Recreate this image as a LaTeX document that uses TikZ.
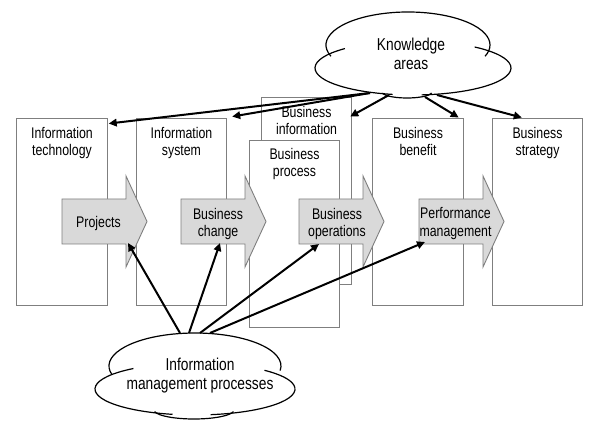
\documentclass[tikz,border=0pt]{standalone}
\usepackage{fontspec}
\setmainfont{Liberation Sans}[FakeStretch=0.8]
\usetikzlibrary{arrows.meta,calc}
\definecolor{boxgray}{HTML}{7F7F7F}
\definecolor{arrowgray}{HTML}{D9D9D9}
\begin{document}
\begin{tikzpicture}[x=1pt,y=-1pt,
  box/.style={draw=boxgray, line width=0.9pt, fill=white, minimum width=90.5pt, minimum height=187pt, inner sep=0pt},
  lbl/.style={anchor=north, align=center, inner sep=0pt, font=\fontsize{15.4}{17.3}\selectfont},
  cltxt/.style={anchor=north, align=center, inner sep=0pt, font=\fontsize{17.2}{19}\selectfont},
  blk/.style={draw=boxgray, line width=0.9pt, fill=arrowgray, line join=miter},
  conn/.style={line width=2pt, -{Triangle[length=8pt,width=7.5pt]}},
  cl/.style={line width=1.2pt},
  ]
\useasboundingbox (0,0) rectangle (600,430);
\fill[white] (0,0) rectangle (600,430);
% boxes
\node[box] (it) at (62,211.5) {};
\node[lbl] (itl) at (62,127) {Information\\technology};
\node[box] (is) at (181.5,211.5) {};
\node[lbl] (isl) at (181.5,127) {Information\\system};
\node[box] (bi) at (306.5,190.5) {};
\node[lbl] (bil) at (306.5,106) {Business\\information};
\node[box] (bp) at (294.5,233.5) {};
\node[lbl] (bpl) at (294.5,148) {Business\\process};
\node[box] (bb) at (418,211.5) {};
\node[lbl] (bbl) at (418,127) {Business\\benefit};
\node[box] (bs) at (537.5,211.5) {};
\node[lbl] (bsl) at (537.5,127) {Business\\strategy};
% block arrows
\draw[blk] (62,199) -- ++(64,0) -- ++(0,-23) -- ++(21,45.5) -- ++(-21,45.5) -- ++(0,-23) -- ++(-64,0) -- cycle;
\draw[blk] (181,199) -- ++(64,0) -- ++(0,-23) -- ++(21,45.5) -- ++(-21,45.5) -- ++(0,-23) -- ++(-64,0) -- cycle;
\draw[blk] (299,199) -- ++(64,0) -- ++(0,-23) -- ++(21,45.5) -- ++(-21,45.5) -- ++(0,-23) -- ++(-64,0) -- cycle;
\draw[blk] (419,199) -- ++(64,0) -- ++(0,-23) -- ++(21,45.5) -- ++(-21,45.5) -- ++(0,-23) -- ++(-64,0) -- cycle;
\node[lbl] (proj) at (98.5,216) {Projects};
\node[lbl] (chg) at (218,208) {Business\\change};
\node[lbl] (ops) at (337,208) {Business\\operations};
\node[lbl] (perf) at (455.5,207.5) {Performance\\management};
\coordinate (projend) at (128,243);
\coordinate (chgend) at (220,243);
\coordinate (opsend) at (319,244);
\coordinate (perfend) at (425,242);
% knowledge cloud
\fill[white] (413,68) ellipse[x radius=98,y radius=27];
\fill[white] (408,45) ellipse[x radius=82,y radius=33];
\fill[white] (407,92) ellipse[x radius=25,y radius=6];
\draw[cl] ([shift={(160:82 and 33)}]408,45) arc[start angle=160,end angle=380,x radius=82,y radius=33];
\draw[cl] ([shift={(226:98 and 27)}]413,68) arc[start angle=226,end angle=102,x radius=98,y radius=27];
\draw[cl] ([shift={(85:98 and 27)}]413,68) arc[start angle=85,end angle=-51,x radius=98,y radius=27];
\draw[cl] ([shift={(170:25 and 6)}]407,92) arc[start angle=170,end angle=10,x radius=25,y radius=6];
\node[cltxt] (ka) at (411,38) {Knowledge\\areas};
% information management cloud
\fill[white] (195,389) ellipse[x radius=100,y radius=26];
\fill[white] (195,366) ellipse[x radius=86,y radius=33];
\fill[white] (194,410) ellipse[x radius=40,y radius=9];
\draw[cl] ([shift={(165:86 and 33)}]195,366) arc[start angle=165,end angle=368,x radius=86,y radius=33];
\draw[cl] ([shift={(232:100 and 26)}]195,389) arc[start angle=232,end angle=103,x radius=100,y radius=26];
\draw[cl] ([shift={(81:100 and 26)}]195,389) arc[start angle=81,end angle=-46,x radius=100,y radius=26];
\draw[cl] ([shift={(170:40 and 9)}]194,410) arc[start angle=170,end angle=10,x radius=40,y radius=9];
\node[cltxt] (imp) at (200,358) {Information\\management processes};
% connectors
\coordinate (kaA) at (370,93);
\coordinate (kaB) at (389,95);
\coordinate (kaC) at (425,97);
\coordinate (kaD) at (437,95);
\draw[conn] (kaA) -- ($(it.north east)+(1,6)$);
\draw[conn] (kaA) -- ($(is.north east)+(5,-1)$);
\draw[conn] (kaB) -- ($(bi.north east)+(-2,20)$);
\draw[conn] (kaC) -- ($(bb.north east)+(-5,0)$);
\draw[conn] (kaD) -- ($(bs.north west)+(30,0)$);
\coordinate (ipA) at (180,333);
\coordinate (ipB) at (189,333);
\coordinate (ipC) at (200,333);
\coordinate (ipD) at (210,333);
\draw[conn] (ipA) -- (projend);
\draw[conn] (ipB) -- (chgend);
\draw[conn] (ipC) -- (opsend);
\draw[conn] (ipD) -- (perfend);
\end{tikzpicture}
\end{document}
